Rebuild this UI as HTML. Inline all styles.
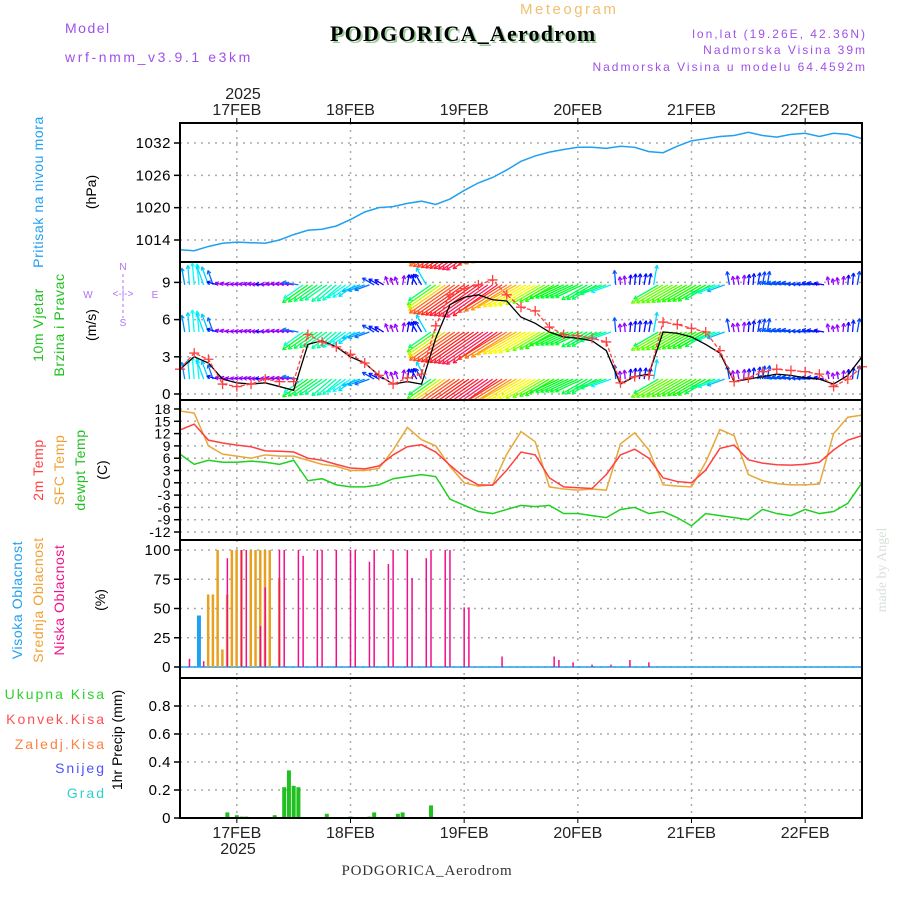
<!DOCTYPE html>
<html><head><meta charset="utf-8"><style>
html,body{margin:0;padding:0;background:#fff;width:900px;height:900px;overflow:hidden}
svg{display:block}
text{font-family:"Liberation Sans",sans-serif}
</style></head><body>
<svg id="chart" width="900" height="900" viewBox="0 0 900 900" xmlns="http://www.w3.org/2000/svg">
<defs>
<clipPath id="clipW"><rect x="180" y="262" width="682" height="138"/></clipPath>
</defs>
<g>
<text x="65" y="33" font-size="14" fill="#a050e8" letter-spacing="1.5">Model</text>
<text x="65" y="62" font-size="14" fill="#a050e8" letter-spacing="2.6">wrf-nmm_v3.9.1 e3km</text>
<text x="520" y="14" font-size="15" fill="#f0c070" letter-spacing="2.5">Meteogram</text>
<text x="332" y="43" font-size="22" font-weight="bold" fill="#9c9" letter-spacing="1.2" style="font-family:'Liberation Serif',serif">PODGORICA_Aerodrom</text>
<text x="330" y="41" font-size="22" font-weight="bold" fill="#000" letter-spacing="1.2" style="font-family:'Liberation Serif',serif">PODGORICA_Aerodrom</text>
<text x="867" y="38" font-size="12" fill="#a050e8" text-anchor="end" letter-spacing="2">lon,lat (19.26E, 42.36N)</text>
<text x="867" y="54" font-size="12" fill="#a050e8" text-anchor="end" letter-spacing="2">Nadmorska Visina 39m</text>
<text x="867" y="71" font-size="12" fill="#a050e8" text-anchor="end" letter-spacing="2">Nadmorska Visina u modelu 64.4592m</text>
<text x="243" y="99" font-size="16" fill="#222" text-anchor="middle">2025</text>
<text x="238" y="854" font-size="16" fill="#222" text-anchor="middle">2025</text>
<text x="427" y="875" font-size="15" fill="#333" text-anchor="middle" letter-spacing="0.8" style="font-family:'Liberation Serif',serif">PODGORICA_Aerodrom</text>
<text transform="translate(886,570) rotate(-90)" font-size="14" fill="#d8e0d8" text-anchor="middle" style="font-family:'Liberation Serif',serif">made by Angel</text>
</g>
<g font-size="14">
<text transform="translate(43,192) rotate(-90)" fill="#20a0f0" text-anchor="middle" letter-spacing="0.6">Pritisak na nivou mora</text>
<text transform="translate(96,192) rotate(-90)" fill="#000" text-anchor="middle">(hPa)</text>
<text transform="translate(43,325) rotate(-90)" fill="#20c020" text-anchor="middle" letter-spacing="0.6">10m Vjetar</text>
<text transform="translate(64,325) rotate(-90)" fill="#20c020" text-anchor="middle" letter-spacing="0.6">Brzina i Pravac</text>
<text transform="translate(96,325) rotate(-90)" fill="#000" text-anchor="middle">(m/s)</text>
<g fill="#b070f0" font-size="10" stroke="none">
<text x="123" y="270" text-anchor="middle">N</text><text x="123" y="326" text-anchor="middle">S</text>
<text x="88" y="298" text-anchor="middle">W</text><text x="155" y="298" text-anchor="middle">E</text>
<text x="123" y="297" text-anchor="middle">&lt;-|-&gt;</text>
<line x1="123" y1="274" x2="123" y2="318" stroke="#b070f0" stroke-dasharray="3,3"/>
</g>
<text transform="translate(43,470) rotate(-90)" fill="#ff4040" text-anchor="middle" letter-spacing="0.6">2m Temp</text>
<text transform="translate(64,470) rotate(-90)" fill="#f0a030" text-anchor="middle" letter-spacing="0.6">SFC Temp</text>
<text transform="translate(85,470) rotate(-90)" fill="#20c020" text-anchor="middle" letter-spacing="0.6">dewpt Temp</text>
<text transform="translate(107,470) rotate(-90)" fill="#000" text-anchor="middle">(C)</text>
<text transform="translate(22,600) rotate(-90)" fill="#20a0f0" text-anchor="middle" letter-spacing="0.6">Visoka Oblacnost</text>
<text transform="translate(43,600) rotate(-90)" fill="#f0a030" text-anchor="middle" letter-spacing="0.6">Srednja Oblacnost</text>
<text transform="translate(64,600) rotate(-90)" fill="#f0108a" text-anchor="middle" letter-spacing="0.6">Niska Oblacnost</text>
<text transform="translate(105,600) rotate(-90)" fill="#000" text-anchor="middle">(%)</text>
<text x="106" y="699" fill="#30d030" text-anchor="end" letter-spacing="2">Ukupna  Kisa</text>
<text x="106" y="724" fill="#ff5050" text-anchor="end" letter-spacing="2">Konvek.Kisa</text>
<text x="106" y="749" fill="#ff8040" text-anchor="end" letter-spacing="2">Zaledj.Kisa</text>
<text x="106" y="773" fill="#5050ff" text-anchor="end" letter-spacing="2">Snijeg</text>
<text x="106" y="798" fill="#30d0d0" text-anchor="end" letter-spacing="2">Grad</text>
<text transform="translate(122,740) rotate(-90)" fill="#000" text-anchor="middle">1hr Precip (mm)</text>
</g>
<g id="plot"></g>
</svg>
<script>
// ---- data (3-hourly from 16FEB 12UTC) ----
const dayLabels = ["17FEB","18FEB","19FEB","20FEB","21FEB","22FEB"];
const pressTicks = [1014,1020,1026,1032];
const windTicks = [0,3,6,9];
const tempTicks = [-12,-9,-6,-3,0,3,6,9,12,15,18];
const cloudTicks = [0,25,50,75,100];
const precipTicks = [0,0.2,0.4,0.6,0.8];
const pressure = [1012.2,1012.0,1012.8,1013.4,1013.6,1013.5,1013.4,1014.0,1015.0,1015.8,1016.0,1016.6,1017.8,1019.2,1020.0,1020.2,1020.8,1021.2,1020.6,1021.6,1023.2,1024.6,1025.6,1027.0,1028.6,1029.6,1030.3,1030.8,1031.2,1031.2,1031.0,1031.4,1031.2,1030.4,1030.2,1031.4,1032.4,1032.8,1033.2,1033.4,1034.0,1033.4,1033.1,1033.6,1033.8,1033.2,1033.8,1033.6,1032.8];
const windSpeed = [2.0,3.3,2.8,0.8,0.6,0.8,1.2,1.0,1.0,4.8,4.2,3.8,3.2,2.5,1.5,0.8,1.3,1.6,5.5,8.0,8.5,8.8,9.2,8.0,7.0,6.7,5.4,4.8,4.7,4.5,4.2,0.9,1.4,1.5,5.8,5.6,5.3,5.0,3.5,1.0,1.3,1.8,2.0,1.9,1.8,1.6,0.6,1.2,2.2];
const windSpeed2 = [2.0,3.0,2.5,1.2,0.9,0.8,0.9,0.6,0.3,4.0,4.3,3.8,3.0,2.5,1.5,0.8,1.0,0.8,4.5,7.2,7.8,8.0,7.6,7.5,6.2,5.7,5.0,4.6,4.5,4.3,3.5,0.8,1.4,1.6,5.0,4.9,4.6,4.0,3.3,1.0,1.2,1.4,1.6,1.5,1.3,1.2,0.8,1.5,3.0];
const windDir = [100,95,110,165,170,170,175,170,170,215,215,220,215,200,150,110,80,120,215,215,215,215,215,212,210,210,210,205,205,210,200,95,85,80,210,210,210,210,200,100,85,80,170,170,175,170,100,85,80];
const temp2m = [12.9,14.3,10.4,9.7,9.2,8.8,7.8,7.7,7.5,6.0,5.5,4.5,3.6,3.4,4.1,6.8,8.8,9.3,7.5,4.3,1.4,-0.5,-0.6,3.1,7.5,6.8,1.2,-1.0,-1.2,-1.4,2.0,6.8,8.2,6.0,1.2,0.3,0.0,3.1,8.4,9.2,5.6,4.8,4.4,4.3,4.5,5.0,8.0,10.4,11.5];
const tempSfc = [17.5,17.0,9.0,7.0,6.5,6.0,6.8,6.5,6.5,5.5,4.5,4.0,3.0,3.0,3.5,8.0,13.5,10.5,9.0,4.0,0.0,-0.8,-0.5,7.0,12.5,10.0,-1.0,-1.5,-1.8,-1.5,-1.8,9.5,12.2,8.0,-0.5,-0.8,-1.0,5.0,13.0,11.5,2.0,0.5,-0.2,-0.5,-0.5,-0.3,12.0,16.0,16.5];
const dewpt = [7.0,4.5,5.5,5.0,5.0,5.3,5.0,4.5,5.5,0.5,1.0,-0.5,-1.0,-1.0,-0.5,1.0,1.5,2.0,1.5,-4.0,-5.5,-7.0,-7.5,-6.5,-5.5,-5.8,-5.5,-7.5,-7.5,-8.0,-8.5,-6.5,-6.0,-7.5,-7.0,-8.5,-10.5,-7.5,-8.0,-8.5,-9.0,-6.5,-7.5,-8.0,-6.5,-7.5,-7.0,-5.0,0.0];
const lowHours = [2,5,10,13,14,17,18,21,22,25,26,29,30,33,36,37,40,41,44,45,48,49,52,53,56,57,60,61,68,79,80,83,87,91,95,99];
const lowVals  = [7,5,93,100,100,35,68,100,100,100,95,100,100,100,100,100,90,100,88,100,100,76,93,100,100,100,51,51,9,9,6,4,2,2,6,4];
const midHours = [4,6,7,8,9,10,11,12,13,15,16,17,18,19,21];
const midVals  = [12,62,62,100,15,62,100,100,100,100,100,100,100,100,76];
const highHours = [4];
const highVals  = [44];
const precipHours = [10,12,13,14,20,22,23,24,25,31,36,40,41,46,47,53];
const precipVals  = [0.04,0.02,0.01,0.01,0.02,0.22,0.34,0.23,0.22,0.03,0.01,0.01,0.04,0.03,0.04,0.09];
</script>
<script>
const NS="http://www.w3.org/2000/svg";
const plot=document.getElementById('plot');
const X0=180,X1=862,HOURS=144;
const xH=h=>X0+h*(X1-X0)/HOURS;
const xK=k=>xH(k*3);
const yP=p=>143+(1032-p)*(97/18);
const yW=v=>394-v*12.4;
const yT=t=>409+(18-t)*(123/30);
const yC=c=>667-c*1.17;
const yR=r=>818-r*140;
function el(tag,attrs,parent){const e=document.createElementNS(NS,tag);for(const a in attrs)e.setAttribute(a,attrs[a]);(parent||plot).appendChild(e);return e;}
const panels=[[123,262],[262,400],[400,540],[540,678],[678,818]];
const grid=el('g',{});


panels.forEach(([a,b])=>{
  for(let d=0;d<6;d++){const x=xH(12+24*d);el('line',{x1:x,y1:a,x2:x,y2:b,stroke:'#aaa','stroke-dasharray':'2,5','stroke-width':1.5},grid);}
});
function hgrid(ticks,yf,fmt,fs){
  ticks.forEach(t=>{const y=yf(t);
    el('line',{x1:X0,y1:y,x2:X1,y2:y,stroke:'#aaa','stroke-dasharray':'2,5','stroke-width':1.5},grid);
    el('line',{x1:X0-6,y1:y,x2:X0,y2:y,stroke:'#000','stroke-width':1.5},grid);
    const tx=el('text',{x:X0-9,y:y+5,'font-size':fs||15,'text-anchor':'end',fill:'#000','letter-spacing':0.5},grid);
    
    
    tx.textContent=fmt?fmt(t):t;});
}
hgrid(pressTicks,yP);hgrid(windTicks,yW);hgrid(tempTicks,yT,t=>t,14);hgrid(cloudTicks,yC);hgrid(precipTicks,yR,t=>t===0?'0':t.toFixed(1));
dayLabels.forEach((d,i)=>{const x=xH(12+24*i);
  const t1=el('text',{x:x,y:115,'font-size':16,'text-anchor':'middle',fill:'#222'},grid);
  
  
  t1.textContent=d;
  const t2=el('text',{x:x,y:838,'font-size':16,'text-anchor':'middle',fill:'#222'},grid);
  
  
  t2.textContent=d;
  el('line',{x1:x,y1:118,x2:x,y2:123,stroke:'#000'},grid);el('line',{x1:x,y1:818,x2:x,y2:823,stroke:'#000'},grid);
});
function line(arr,yf,color,name,w){
  const p=el('polyline',{points:arr.map((v,k)=>xK(k)+','+yf(v)).join(' '),fill:'none',stroke:color,'stroke-width':w||1.5});
  
  
  return p;
}
line(pressure,yP,'#20a0f0','pressure-line');
const wg=el('g',{'clip-path':'url(#clipW)'});


const rows=[1.2,5.0,8.8,12.6];
function hueFor(s){let h=285-s*33;if(s<1.2)h=275;if(h<0)h+=360;return 'hsl('+h+',100%,'+(s>7.5?55:50)+'%)';}
for(let h=0;h<=HOURS;h++){
  const k=h/3,k0=Math.floor(k),k1=Math.min(k0+1,windSpeed.length-1),f=k-k0;
  const s=windSpeed[k0]*(1-f)+windSpeed[k1]*f;
  const dir=windDir[Math.round(k)]*Math.PI/180;
  const len=3+s*5.8;
  const col=hueFor(s);
  rows.forEach(r=>{
    const x=xH(h),y=yW(r);
    const x2=x+Math.cos(dir)*len,y2=y-Math.sin(dir)*len;
    const a=el('line',{x1:x,y1:y,x2:x2,y2:y2,stroke:col,'stroke-width':1.3},wg);
    
    
    [0.5,-0.5].forEach(o=>{el('line',{x1:x2,y1:y2,x2:x2-Math.cos(dir+o)*4,y2:y2+Math.sin(dir+o)*4,stroke:col,'stroke-width':1.1},wg);});
  });
}
line(windSpeed2,yW,'#000','wind-speed-model2',1.3);
const ws=line(windSpeed,yW,'#ff4040','wind-speed-line',1.3);
ws.setAttribute('stroke-dasharray','4,2');
windSpeed.forEach((v,k)=>{const x=xK(k),y=yW(v);
  const m=el('path',{d:`M${x-5},${y}H${x+5}M${x},${y-5}V${y+5}`,stroke:'#ff4040','stroke-width':1.3});
  
  });
line(dewpt,yT,'#20d020','dewpoint-line');
line(tempSfc,yT,'#e8a838','sfc-temp-line');
line(temp2m,yT,'#ff4040','temp-2m-line');
el('line',{x1:X0,y1:yC(0),x2:X1,y2:yC(0),stroke:'#20a0f0','stroke-width':1.5});
midHours.forEach((h,i)=>{const b=el('rect',{x:xH(h)-1.5,y:yC(midVals[i]),width:2.5,height:yC(0)-yC(midVals[i]),fill:'#e8a020'});
  
  });
highHours.forEach((h,i)=>{const b=el('rect',{x:xH(h)-2,y:yC(highVals[i]),width:4,height:yC(0)-yC(highVals[i]),fill:'#20a0f0'});
  
  });
lowHours.forEach((h,i)=>{const b=el('rect',{x:xH(h)-0.75,y:yC(lowVals[i]),width:1.5,height:yC(0)-yC(lowVals[i]),fill:'#f0108a'});
  
  });
precipHours.forEach((h,i)=>{const b=el('rect',{x:xH(h)-2,y:yR(precipVals[i]),width:4,height:yR(0)-yR(precipVals[i]),fill:'#20c020'});
  
  });
panels.forEach(([a,b])=>{el('rect',{x:X0,y:a,width:X1-X0,height:b-a,fill:'none',stroke:'#000','stroke-width':2});});
</script>
</body></html>
